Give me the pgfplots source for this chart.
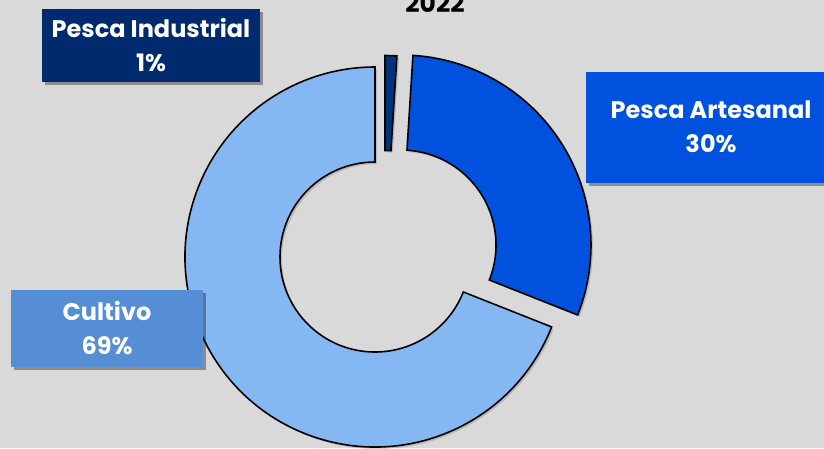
\documentclass[border=0pt]{standalone}
\usepackage{pgfplots}
\pgfplotsset{compat=1.18}
\usepackage{pgfplotstable}
\usepackage{fontspec}
\setmainfont{Poppins}
\usetikzlibrary{shadows}
\definecolor{bgcol}{HTML}{D9D9D9}
\definecolor{cultcol}{HTML}{85B7F2}
\definecolor{artcol}{HTML}{0052DE}
\definecolor{indcol}{HTML}{00337A}
\definecolor{indbox}{HTML}{002A6E}
\definecolor{artbox}{HTML}{0052DE}
\definecolor{cultbox}{HTML}{558ED5}

\pgfplotstableread{
name value cx cy
Industrial 1 385 245.5
Artesanal 30 401 245
Cultivo 69 375 257
}\piedata

\newcommand\getv[3]{\pgfplotstablegetelem{#1}{#2}\of\piedata\global\let#3\pgfplotsretval}

\newcommand\slice[5]{%
  \filldraw[fill=#5, draw=black, line width=1.6pt, line join=miter,
    drop shadow={shadow xshift=2pt, shadow yshift=-2pt, opacity=0.15, fill=black}]
    (axis cs:#1,#2) ++(#3:190pt) arc[start angle=#3, end angle=#4, radius=190pt]
    -- ([shift={(#4:95pt)}]axis cs:#1,#2) arc[start angle=#4, end angle=#3, radius=95pt] -- cycle;}

\begin{document}
\begin{tikzpicture}
\getv{0}{value}\vI \getv{1}{value}\vA \getv{2}{value}\vC
\getv{0}{cx}\xI \getv{1}{cx}\xA \getv{2}{cx}\xC
\getv{0}{cy}\yI \getv{1}{cy}\yA \getv{2}{cy}\yC
\pgfmathsetmacro\aIs{90}
\pgfmathsetmacro\aIe{\aIs-3.6*\vI}
\pgfmathsetmacro\aAe{\aIe-3.6*\vA}
\pgfmathsetmacro\aCe{\aAe-3.6*\vC}
\begin{axis}[scale only axis, width=824pt, height=448pt,
  xmin=0, xmax=824, ymin=0, ymax=448, y dir=reverse,
  hide axis, clip=false]
\fill[bgcol] (rel axis cs:0,0) rectangle (rel axis cs:1,1);
\slice{\xC}{\yC}{\aAe}{\aCe}{cultcol}
\slice{\xA}{\yA}{\aIe}{\aAe}{artcol}
\slice{\xI}{\yI}{\aIs}{\aIe}{indcol}
\node[anchor=base, font=\bfseries\fontsize{25}{28}\selectfont] at (axis cs:435,12) {2022};
\tikzset{lab/.style={text=white, inner sep=0pt, align=center,
  font=\bfseries\fontsize{24}{34}\selectfont,
  drop shadow={shadow xshift=3pt, shadow yshift=-3pt, opacity=0.35, fill=black}}}
\node[lab, fill=indbox, minimum width=218pt, minimum height=73pt] at (axis cs:151,45.5) {Pesca Industrial\\1\%};
\node[lab, fill=artbox, minimum width=250pt, minimum height=111pt] at (axis cs:711,127) {Pesca Artesanal\\30\%};
\node[lab, fill=cultbox, minimum width=192pt, minimum height=77pt] at (axis cs:107,328.5) {Cultivo\\69\%};
\end{axis}
\pgfresetboundingbox
\path[use as bounding box] (current axis.south west) rectangle (current axis.north east);
\end{tikzpicture}
\end{document}
